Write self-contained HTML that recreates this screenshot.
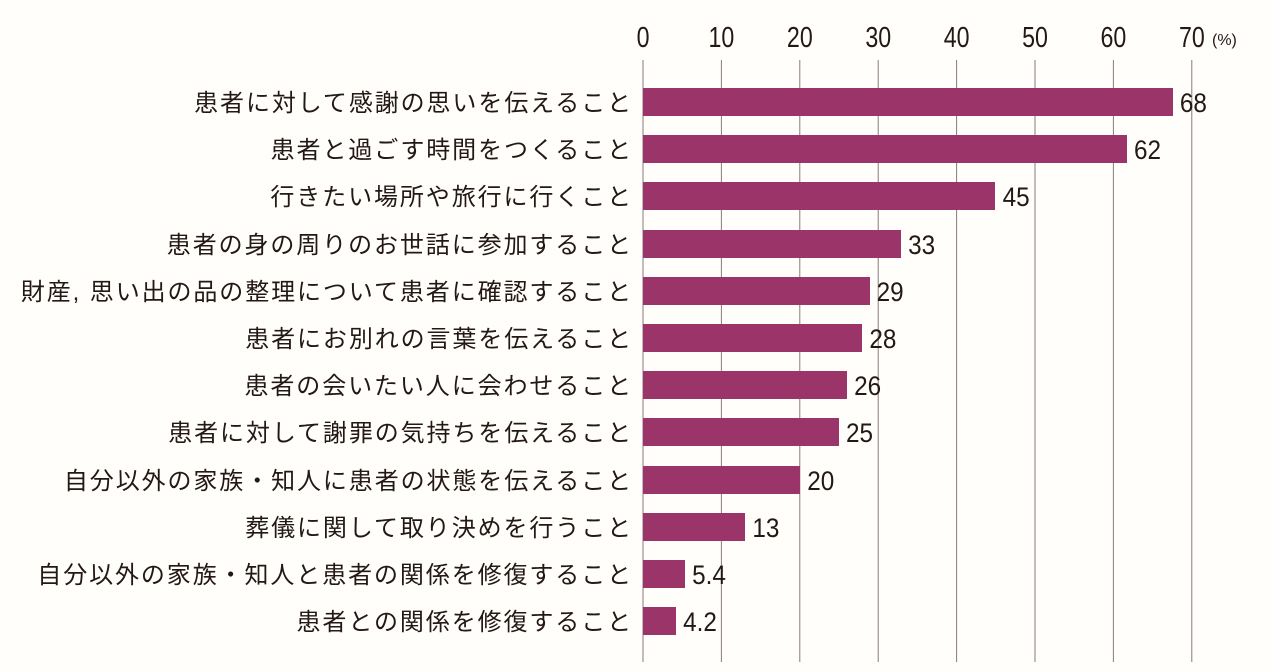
<!DOCTYPE html><html><head><meta charset="utf-8"><style>
body{margin:0;background:#fffefb;}
svg text{font-family:"Liberation Sans","Noto Sans CJK JP",sans-serif;fill:#231815;}
</style></head><body>
<svg width="1271" height="666" xmlns="http://www.w3.org/2000/svg">
<rect width="1271" height="666" fill="#fffefb"/>
<g stroke="#8a7a78" stroke-width="1">
<line x1="643" y1="60" x2="643" y2="662"/><line x1="721.4" y1="60" x2="721.4" y2="662"/><line x1="799.8" y1="60" x2="799.8" y2="662"/><line x1="878.2" y1="60" x2="878.2" y2="662"/><line x1="956.6" y1="60" x2="956.6" y2="662"/><line x1="1035" y1="60" x2="1035" y2="662"/><line x1="1113.4" y1="60" x2="1113.4" y2="662"/><line x1="1191.8" y1="60" x2="1191.8" y2="662"/>
</g>
<g font-size="29" text-anchor="middle" transform="scale(0.8,1)">
<text x="803.8" y="47">0</text><text x="901.8" y="47">10</text><text x="999.8" y="47">20</text><text x="1097.8" y="47">30</text><text x="1195.8" y="47">40</text><text x="1293.8" y="47">50</text><text x="1391.8" y="47">60</text><text x="1489.8" y="47">70</text>
</g>
<text x="1212" y="45" font-size="16">(%)</text>
<g fill="#9b3468">
<rect x="643" y="88" width="530" height="28"/>
<rect x="643" y="135" width="484" height="28"/>
<rect x="643" y="182" width="352" height="28"/>
<rect x="643" y="230" width="258" height="28"/>
<rect x="643" y="277" width="227" height="28"/>
<rect x="643" y="324" width="219" height="28"/>
<rect x="643" y="371" width="204" height="28"/>
<rect x="643" y="418" width="196" height="28"/>
<rect x="643" y="466" width="157" height="28"/>
<rect x="643" y="513" width="102" height="28"/>
<rect x="643" y="560" width="42" height="28"/>
<rect x="643" y="607" width="33" height="28"/>
</g>
<g font-size="24" text-anchor="end" letter-spacing="1.9">
<text x="633" y="111">患者に対して感謝の思いを伝えること</text>
<text x="633" y="158">患者と過ごす時間をつくること</text>
<text x="633" y="205">行きたい場所や旅行に行くこと</text>
<text x="633" y="253">患者の身の周りのお世話に参加すること</text>
<text x="633" y="300">財産, 思い出の品の整理について患者に確認すること</text>
<text x="633" y="347">患者にお別れの言葉を伝えること</text>
<text x="633" y="394">患者の会いたい人に会わせること</text>
<text x="633" y="441">患者に対して謝罪の気持ちを伝えること</text>
<text x="633" y="489">自分以外の家族・知人に患者の状態を伝えること</text>
<text x="633" y="536">葬儀に関して取り決めを行うこと</text>
<text x="633" y="583">自分以外の家族・知人と患者の関係を修復すること</text>
<text x="633" y="630">患者との関係を修復すること</text>
</g>
<g font-size="27" transform="scale(0.9,1)">
<text x="1311" y="112">68</text>
<text x="1260" y="159">62</text>
<text x="1114" y="206">45</text>
<text x="1009" y="254">33</text>
<text x="974" y="301">29</text>
<text x="966" y="348">28</text>
<text x="949" y="395">26</text>
<text x="940" y="442">25</text>
<text x="897" y="490">20</text>
<text x="836" y="537">13</text>
<text x="769" y="584">5.4</text>
<text x="759" y="631">4.2</text>
</g>
</svg>
</body></html>
